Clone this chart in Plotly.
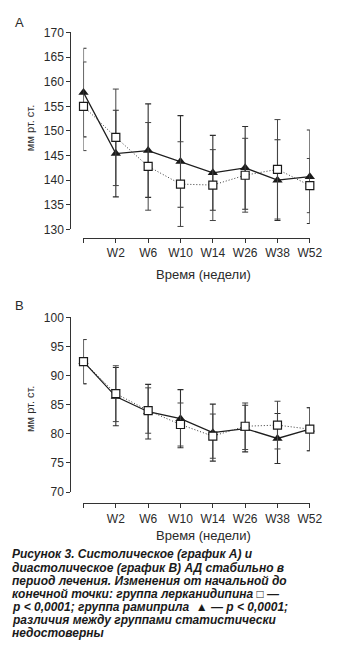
import plotly.graph_objects as go

W, H = 352, 649

categories = ["", "W2", "W6", "W10", "W14", "W26", "W38", "W52"]

# Panel A — systolic BP
sys_ram = [157.8, 145.4, 146.0, 143.8, 141.5, 142.5, 140.0, 140.7]
sys_ram_err = [9.0, 8.8, 9.5, 9.3, 7.6, 8.4, 8.2, 9.5]
sys_ler = [155.0, 148.7, 142.8, 139.2, 139.0, 141.0, 142.2, 138.9]
sys_ler_err = [9.0, 9.8, 8.9, 8.6, 7.2, 7.5, 10.1, 5.5]

# Panel B — diastolic BP
dia_ram = [92.4, 86.4, 83.8, 82.6, 80.2, 80.9, 79.2, 80.8]
dia_ram_err = [3.8, 5.0, 4.7, 5.0, 4.9, 4.0, 4.3, 3.7]
dia_ler = [92.4, 86.9, 84.0, 81.6, 79.6, 81.3, 81.5, 80.8]
dia_ler_err = [3.8, 4.8, 3.9, 3.7, 3.8, 4.0, 4.1, 3.7]

sys_ticks = [130, 135, 140, 145, 150, 155, 160, 165, 170]
dia_ticks = [70, 75, 80, 85, 90, 95, 100]

caption_lines = [
    "Рисунок 3. Систолическое (график А) и",
    "диастолическое (график В) АД стабильно в",
    "период лечения. Изменения от начальной до",
    "конечной точки: группа лерканидипина □ —",
    "p < 0,0001; группа рамиприла  ▲ — p < 0,0001;",
    "различия между группами статистически",
    "недостоверны",
]

def fy(px):
    return 1 - px / H

def fx(px):
    return px / W

FONT = "Liberation Sans, Arial, sans-serif"
TXT = "#2a2a2a"
x = list(range(len(categories)))

fig = go.Figure()

def add_panel(ram, ram_err, ler, ler_err, xa, ya):
    fig.add_trace(go.Scatter(
        x=x, y=ram, mode="lines+markers", xaxis=xa, yaxis=ya,
        line=dict(color="#1e1e1e", width=1.3),
        marker=dict(symbol="triangle-up", size=9, color="#1a1a1a"),
        error_y=dict(type="data", array=ram_err, color="#2e2e2e", thickness=1.1, width=3),
        cliponaxis=False, showlegend=False))
    fig.add_trace(go.Scatter(
        x=x, y=ler, mode="lines+markers", xaxis=xa, yaxis=ya,
        line=dict(color="#3a3a3a", width=1, dash="1px,2px"),
        marker=dict(symbol="square", size=8, color="white",
                    line=dict(width=1.2, color="#1a1a1a")),
        error_y=dict(type="data", array=ler_err, color="#444444", thickness=1, width=3),
        cliponaxis=False, showlegend=False))

add_panel(sys_ram, sys_ram_err, sys_ler, sys_ler_err, "x", "y")
add_panel(dia_ram, dia_ram_err, dia_ler, dia_ler_err, "x2", "y2")

xdom = [fx(86.7), fx(321.7)]

def xaxis_cfg(pos):
    return dict(domain=xdom, range=[0, len(categories) - 1], tickmode="array",
                tickvals=x, ticktext=categories, anchor="free", position=pos,
                showline=True, linecolor="#333", linewidth=1.2,
                ticks="outside", ticklen=4, tickcolor="#333", showgrid=False,
                zeroline=False, tickfont=dict(family=FONT, size=12, color=TXT))

def yaxis_cfg(dom, rng, tv, pos):
    return dict(domain=dom, range=rng, tickmode="array", tickvals=tv,
                anchor="free", position=pos, showline=True, linecolor="#333",
                linewidth=1, ticks="outside", ticklen=4, tickcolor="#333",
                showgrid=False, zeroline=False,
                tickfont=dict(family=FONT, size=12, color=TXT))

fig.update_layout(
    width=W, height=H, margin=dict(l=0, r=0, t=0, b=0),
    paper_bgcolor="white", plot_bgcolor="white",
    xaxis=xaxis_cfg(fy(235.7)),
    yaxis=yaxis_cfg([fy(227.3), fy(26)], [130, 170], sys_ticks, fx(73)),
    xaxis2=xaxis_cfg(fy(507.3)),
    yaxis2=yaxis_cfg([fy(495.7), fy(317.3)], [70, 100], dia_ticks, fx(73)),
)

def text_ann(text, px, py, size, angle=0, xanchor="center", color=TXT, pad=1):
    return dict(text=text, x=fx(px), y=fy(py), xref="paper", yref="paper",
                xanchor=xanchor, yanchor="middle", textangle=angle, borderpad=pad,
                showarrow=False, font=dict(family=FONT, size=size, color=color))

ann = [
    text_ann("A", 20.5, 15.5, 13),
    text_ann("B", 20.5, 305.5, 13),
]
for yc in (124, 411):
    ann.append(text_ann("мм рт. ст.", 31, yc, 11, angle=-90))
for yc in (273, 540):
    ann.append(text_ann("Время (недели)", 211, yc, 13))
cap_top, cap_step = 559.5, 13.45
for i, line in enumerate(caption_lines):
    ann.append(text_ann("<b><i>" + line + "</i></b>", 11, cap_top + i * cap_step, 12,
                        xanchor="left", color="#1a1a1a", pad=0))
fig.update_layout(annotations=ann)

fig.write_html("out.html")
